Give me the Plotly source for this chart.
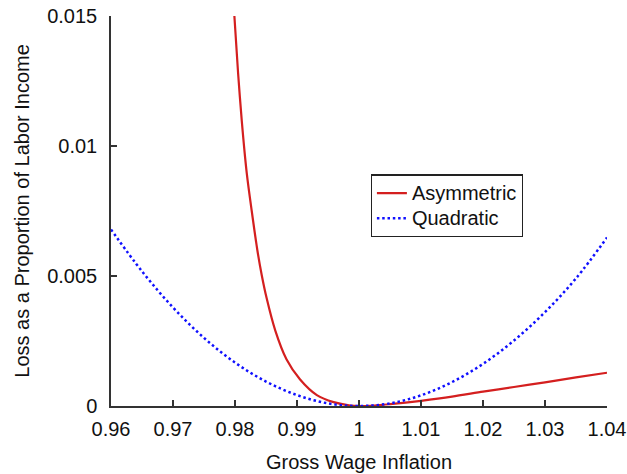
import plotly.graph_objects as go

# Loss (share of labor income) against gross wage inflation
asym_x = [0.9799, 0.9805, 0.9811, 0.9819, 0.9827, 0.9836, 0.9843, 0.9851, 0.9865,
          0.9883, 0.9905, 0.9932, 0.9959, 0.9986, 1.0000, 1.0025, 1.0050, 1.0075,
          1.0100, 1.0150, 1.0200, 1.0250, 1.0300, 1.0350, 1.0400]
asym_y = [0.01500, 0.01280, 0.01095, 0.00895, 0.00750, 0.00600, 0.00505, 0.00415, 0.00290,
          0.00180, 0.00102, 0.00042, 0.00015, 0.00002, 0.00000, 0.00002, 0.00007, 0.00013,
          0.00020, 0.00036, 0.00055, 0.00073, 0.00091, 0.00110, 0.00128]

quad_x = [0.960, 0.965, 0.970, 0.975, 0.980, 0.985, 0.990, 0.995, 1.000,
          1.005, 1.010, 1.015, 1.020, 1.025, 1.030, 1.035, 1.040]
quad_y = [0.00679, 0.00518, 0.00379, 0.00262, 0.00167, 0.00094, 0.00042, 0.00010, 0.00000,
          0.00010, 0.00041, 0.00092, 0.00162, 0.00252, 0.00361, 0.00491, 0.00648]

x_ticks = [0.96, 0.97, 0.98, 0.99, 1.00, 1.01, 1.02, 1.03, 1.04]
x_tick_text = ["0.96", "0.97", "0.98", "0.99", "1", "1.01", "1.02", "1.03", "1.04"]
y_ticks = [0, 0.005, 0.01, 0.015]
y_tick_text = ["0", "0.005", "0.01", "0.015"]

FONT = "Liberation Sans, Arial, sans-serif"


def legend_label(text):
    # full-size legend text while the legend rows keep a compact spacing
    return f'<span style="font-size:20px">{text}</span>'


fig = go.Figure()
fig.add_trace(go.Scatter(
    x=asym_x, y=asym_y, mode="lines", name=legend_label("Asymmetric"),
    line=dict(color="#d41f1f", width=2.2, shape="spline", smoothing=0.8),
))
fig.add_trace(go.Scatter(
    x=quad_x, y=quad_y, mode="lines", name=legend_label("Quadratic"),
    line=dict(color="#1010ff", width=2.5, dash="2.5px,2.8px", shape="spline", smoothing=1),
))

axis_common = dict(
    showgrid=False, zeroline=False, showline=True, linecolor="#333333", linewidth=1.5,
    ticks="inside", ticklen=6, tickwidth=1.5, tickcolor="#333333",
    tickfont=dict(family=FONT, size=20, color="#111111"),
)

fig.update_layout(
    width=627, height=474,
    margin=dict(l=111, r=20, t=16, b=68, autoexpand=False),
    paper_bgcolor="white", plot_bgcolor="white",
    xaxis=dict(range=[0.96, 1.04], tickvals=x_ticks, ticktext=x_tick_text,
               ticklabelstandoff=4, **axis_common),
    yaxis=dict(range=[0, 0.015], tickvals=y_ticks, ticktext=y_tick_text,
               ticklabelstandoff=8, **axis_common),
    legend=dict(
        x=0.5236, y=0.594, xanchor="left", yanchor="top",
        bordercolor="#222222", borderwidth=1.2, bgcolor="white",
        font=dict(family=FONT, size=17, color="#111111"),
        itemwidth=30, tracegroupgap=0,
    ),
    annotations=[
        dict(text="Gross Wage Inflation", xref="paper", yref="paper",
             x=0.5, y=-0.143, xanchor="center", yanchor="middle", showarrow=False,
             font=dict(family=FONT, size=20, color="#111111")),
        dict(text="Loss as a Proportion of Labor Income", xref="paper", yref="paper",
             x=-0.18, y=0.5, xanchor="center", yanchor="middle", showarrow=False,
             textangle=-90, font=dict(family=FONT, size=20, color="#111111")),
    ],
)

fig.write_html("out.html")
